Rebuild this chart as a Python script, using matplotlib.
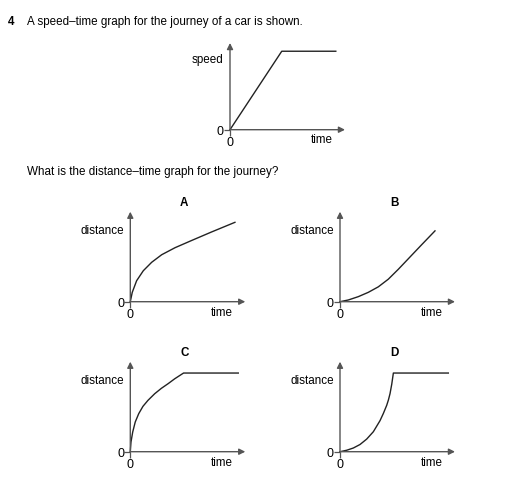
import matplotlib
matplotlib.use("Agg")
import matplotlib.pyplot as plt

plt.rcParams['font.family'] = ['Liberation Sans', 'DejaVu Sans']

# speed-time graph (fractions of the axis length)
speed_t = [0, 0.45, 0.92]
speed_v = [0, 0.905, 0.905]

# distance-time options
a_t = [0, 0.017, 0.055, 0.113, 0.186, 0.273, 0.389, 0.533, 0.707, 0.910]
a_d = [0, 0.104, 0.233, 0.344, 0.438, 0.522, 0.600, 0.680, 0.775, 0.882]

b_t = [0, 0.072, 0.159, 0.246, 0.333, 0.420, 0.507, 0.594, 0.710, 0.826]
b_d = [0, 0.019, 0.056, 0.104, 0.165, 0.250, 0.360, 0.477, 0.633, 0.787]

c_t = [0, 0.006, 0.021, 0.043, 0.073, 0.110, 0.154, 0.212, 0.270, 0.329,
       0.386, 0.463, 0.939]
c_d = [0, 0.108, 0.219, 0.330, 0.422, 0.504, 0.571, 0.644, 0.704, 0.756,
       0.810, 0.874, 0.874]

d_t = [0, 0.058, 0.116, 0.174, 0.232, 0.290, 0.348, 0.377, 0.406, 0.421,
       0.435, 0.450, 0.464, 0.942]
d_d = [0, 0.016, 0.041, 0.080, 0.140, 0.222, 0.345, 0.425, 0.515, 0.575,
       0.645, 0.750, 0.874, 0.874]

W, H = 506, 481
fig = plt.figure(figsize=(W / 100, H / 100), dpi=100)
fig.patch.set_facecolor('white')

axis_col = '#555555'
fs = 8.4


def make_axes(ox, oy, w, h, ylabel, ylab_y, title=None):
    # ox, oy = origin in pixels (from top-left), w/h = arrow lengths
    ax = fig.add_axes([ox / W, (H - oy) / H, w / W, h / H])
    ax.set_xlim(0, 1)
    ax.set_ylim(0, 1)
    for s in ax.spines.values():
        s.set_visible(False)
    ax.set_xticks([0])
    ax.set_yticks([0])
    ax.set_xticklabels(['0'])
    ax.set_yticklabels(['0'])
    ax.tick_params(length=4, width=0.9, color=axis_col, pad=0.5,
                   labelsize=fs + 0.6)
    ax.patch.set_alpha(0)
    arrow = dict(arrowstyle='-|>', color=axis_col, lw=1.0,
                 mutation_scale=9, shrinkA=0, shrinkB=0)
    ax.annotate('', xy=(1, 0), xytext=(0, 0), xycoords='axes fraction',
                arrowprops=arrow, annotation_clip=False)
    ax.annotate('', xy=(0, 1), xytext=(0, 0), xycoords='axes fraction',
                arrowprops=arrow, annotation_clip=False)
    ax.text(-0.055, ylab_y, ylabel, transform=ax.transAxes, ha='right',
            va='center', fontsize=fs)
    ax.text(0.80, -0.11, 'time', transform=ax.transAxes, ha='center',
            va='center', fontsize=fs)
    if title:
        ax.text(0.47, 1.11, title, transform=ax.transAxes, ha='center',
                va='center', fontsize=fs, fontweight='bold')
    return ax


ax = make_axes(230, 130.7, 115, 86.7, 'speed', 0.815)
ax.plot(speed_t, speed_v, color='#222222', lw=1.0, clip_on=False)

panels = [
    (130.3, 302.7, 'A', a_t, a_d),
    (340, 302.7, 'B', b_t, b_d),
    (130.3, 452.7, 'C', c_t, c_d),
    (340, 452.7, 'D', d_t, d_d),
]
for ox, oy, lab, t, d in panels:
    ax = make_axes(ox, oy, 115, 90, 'distance', 0.80, lab)
    ax.plot(t, d, color='#222222', lw=1.0, clip_on=False,
            solid_joinstyle='round')

fig.text(8 / W, 1 - 22 / H, '4', fontsize=fs, fontweight='bold', va='center')
fig.text(27 / W, 1 - 22 / H,
         'A speed\u2013time graph for the journey of a car is shown.',
         fontsize=fs, va='center')
fig.text(27 / W, 1 - 172 / H,
         'What is the distance\u2013time graph for the journey?',
         fontsize=fs, va='center')

fig.savefig('out.png', dpi=100)
